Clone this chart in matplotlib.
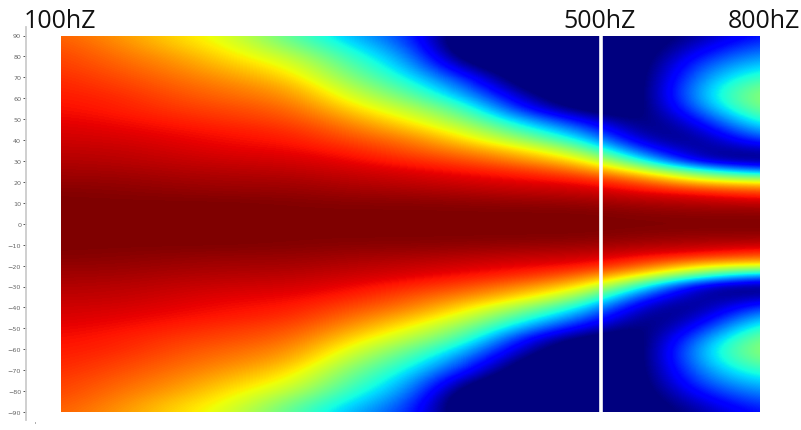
import numpy as np
import matplotlib
matplotlib.use("Agg")
import matplotlib.pyplot as plt
from matplotlib.lines import Line2D

# -----------------------------
# Data (level on the jet scale, anything under 0 clips to dark blue)
# -----------------------------
ANGLES = [90, 85, 80, 75, 70, 65, 60, 55, 50, 45, 40, 35, 30, 25, 20, 15, 10, 5, 0]

F100 = [.81, .825, .84, .85, .865, .875, .885, .895, .907, .92, .93, .943, .955, .968, .98, .995, 1, 1, 1]
F119 = [.75, .77, .79, .81, .83, .85, .87, .88, .895, .91, .925, .94, .95, .965, .98, .99, 1, 1, 1]
F141 = [.68, .70, .74, .765, .79, .81, .83, .85, .875, .895, .91, .925, .94, .955, .97, .985, 1, 1, 1]
F168 = [.60, .63, .66, .70, .74, .775, .80, .83, .85, .88, .895, .91, .93, .95, .965, .98, 1, 1, 1]
F200 = [.45, .50, .58, .635, .68, .73, .765, .80, .83, .86, .885, .905, .925, .945, .965, .98, .995, 1, 1]
F238 = [.30, .35, .40, .45, .50, .56, .62, .68, .74, .79, .83, .875, .905, .93, .95, .97, .99, 1, 1]
F283 = [.18, .22, .27, .31, .36, .42, .49, .57, .64, .71, .78, .82, .87, .915, .94, .965, .99, 1, 1]
F336 = [-.13, -.15, -.10, 0, .13, .22, .31, .42, .50, .59, .67, .76, .83, .89, .925, .955, .985, 1, 1]
F400 = [-.1, -.1, -.1, -.1, -.1, -.05, .03, .11, .27, .40, .53, .67, .76, .86, .91, .945, .98, 1, 1]
F476 = [-.1, -.1, -.1, -.1, -.1, -.1, -.1, -.05, .08, .22, .35, .52, .67, .79, .90, .94, .975, 1, 1]
F566 = [-.05, -.05, -.05, -.05, -.05, -.05, -.05, -.05, -.05, -.03, .03, .16, .38, .64, .82, .91, .96, .99, 1]
F673 = [.03, .08, .15, .22, .27, .31, .31, .25, .15, .06, 0, 0, .03, .42, .68, .89, .95, .985, 1]
F800 = [.15, .21, .28, .35, .43, .51, .55, .52, .44, .33, .20, .05, 0, .25, .64, .84, .94, .985, 1]

FREQS = [100, 119, 141, 168, 200, 238, 283, 336, 400, 476, 566, 673, 800]

TICKS = list(range(-90, 100, 10))

LABELS = ["100hZ", "500hZ", "800hZ"]
LABEL_X = [60, 600, 764]
MARK_FREQ = 498

W, H = 801, 431
L, R, T, B = 61, 760, 36.5, 413

# the lower half is the mirror of the upper half
upper = np.array([F100, F119, F141, F168, F200, F238, F283, F336, F400, F476, F566, F673, F800]).T
grid = np.vstack([upper, upper[-2::-1]])

fig = plt.figure(figsize=(W / 100, H / 100), dpi=100)
ax = fig.add_axes([L / W, 1 - B / H, (R - L) / W, (B - T) / H])

logf = np.log10(FREQS)
dx = (logf[-1] - logf[0]) / (len(FREQS) - 1) / 2
dy = (ANGLES[0] - ANGLES[1]) / 2
ax.imshow(grid, cmap="jet", vmin=0, vmax=1, aspect="auto", interpolation="bicubic",
          extent=[logf[0] - dx, logf[-1] + dx, -90 - dy, 90 + dy])
ax.set_xlim(logf[0], logf[-1])
ax.set_ylim(-90, 90)
ax.axvline(np.log10(MARK_FREQ), color="white", lw=2.6)

for side in ["top", "right", "bottom"]:
    ax.spines[side].set_visible(False)
ax.spines["left"].set_position(("outward", 25.3))
ax.spines["left"].set_color("#cccccc")
ax.spines["left"].set_linewidth(1.3)
ax.spines["left"].set_bounds(-94, 94)
ax.set_xticks([])
ax.set_yticks(TICKS)
ax.tick_params(axis="y", length=2.4, width=0.7, color="#555555", pad=1,
               labelsize=4.6, labelcolor="#666666")

for name, x in zip(LABELS, LABEL_X):
    fig.text(x / W, 1 - 28 / H, name, ha="center", va="baseline",
             family="Open Sans", fontsize=18, color="#111111")

# small stray tick under the axis
fig.add_artist(Line2D([34.5 / W, 34.5 / W], [1 - 424 / H, 1 - 422.5 / H], color="#999999", lw=0.6))

fig.savefig("out.png", dpi=100)
